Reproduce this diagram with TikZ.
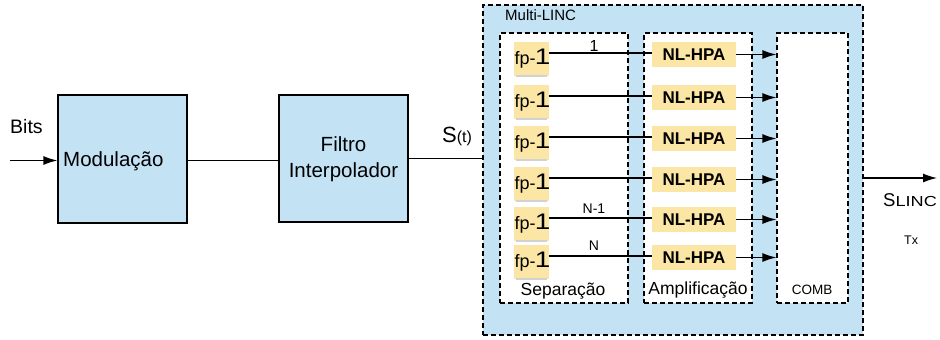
\documentclass[tikz,border=0pt]{standalone}
\usepackage{fontspec}
\setmainfont{Liberation Sans}
\usetikzlibrary{arrows.meta}
\definecolor{skyfill}{RGB}{195,227,245}
\definecolor{ampfill}{RGB}{252,230,166}
\newcommand{\fs}[1]{\fontsize{#1}{#1}\selectfont}
\tikzset{
  block/.style={draw=black, line width=1.2pt, fill=skyfill, inner sep=0pt},
  dashbox/.style={draw=black, line width=1.2pt, dash pattern=on 5pt off 3pt, inner sep=0pt},
  fpbox/.style={fill=ampfill, minimum width=35pt, minimum height=34pt, inner sep=0pt},
  hpabox/.style={fill=ampfill, minimum width=84pt, minimum height=25pt, inner sep=0pt, font=\fs{17}\bfseries},
  wire/.style={line width=1.2pt},
  arr/.style={wire, -{Latex[length=14pt,width=9pt]}},
  lbl/.style={inner sep=0pt, font=\fs{14}},
  txt/.style={inner sep=0pt}
}
\begin{document}
\begin{tikzpicture}[x=1pt,y=-1pt]
\useasboundingbox (0,0) rectangle (940,340);
\fill[white] (0,0) rectangle (940,340);

% modulation and interpolation stages
\node[block, minimum width=129pt, minimum height=128pt] (mod) at (122.5,159) {};
\node[txt, anchor=base west, font=\fs{20.5}] (modtxt) at (63,166) {Modulação};
\node[block, minimum width=129pt, minimum height=127pt] (filt) at (343.5,158.5) {};
\node[txt, anchor=base, font=\fs{20.5}] (filta) at (343.5,151) {Filtro};
\node[txt, anchor=base, font=\fs{20.5}] (filtb) at (343.5,177) {Interpolador};

\coordinate (bitsin) at (10,160.5);
\node[txt, anchor=base west, font=\fs{19.5}] (bits) at (10,133) {Bits};
\draw[arr] (bitsin) -- (mod.west |- bitsin);
\draw[wire] (mod.east |- bitsin) -- (filt.west |- bitsin);

% Multi-LINC block with its three sections
\node[dashbox, fill=skyfill, minimum width=380pt, minimum height=330pt] (linc) at (673,170) {};
\node[txt, anchor=base west, font=\fs{15}] (linctxt) at (505,20) {Multi-LINC};
\node[dashbox, fill=white, minimum width=128pt, minimum height=270pt] (sep) at (564,168) {};
\node[dashbox, fill=white, minimum width=108pt, minimum height=270pt] (amp) at (698,168) {};
\node[dashbox, fill=white, minimum width=71pt, minimum height=270pt] (comb) at (812.5,168) {};

\draw[wire] (filt.east) -- (linc.west |- filt.east);
\node[txt, anchor=base west] (st) at (442,142) {\fs{22}S\fs{16}(t)};

% parallel branches: fp-1 -> NL-HPA -> COMB
\foreach \i/\y in {1/53,2/96,3/137,4/178,5/218,6/256}{
  \node[fpbox] (fp\i) at (531.5,\y+6) {};
  \draw[gray!35, line width=1.5pt] ([xshift=2pt]fp\i.south west) -- ([xshift=-2pt]fp\i.south east);
  \node[txt, anchor=base west] (fpt\i) at (514.5,\y+11) {\fs{18}fp-\hspace{-0.8pt}\scalebox{1.55}[1.25]{1}};
  \coordinate (fo\i) at (549,\y);
  \node[hpabox] (hpa\i) at (694,\y+1.5) {NL-HPA};
  \draw[wire] (fo\i) -- (hpa\i.west |- fo\i);
  \draw[arr] (hpa\i.east) -- (comb.west |- hpa\i.east);
}

\node[lbl, font=\fs{16}] (l1) at (594,46) {1};
\node[lbl] (ln1) at (594,209) {N-1};
\node[lbl] (ln) at (594,246) {N};

\node[txt, font=\fs{17.5}] (septxt) at (563,291) {Separação};
\node[txt, font=\fs{17.5}] (amptxt) at (698,290) {Amplificação};
\node[txt, font=\fs{13.5}] (combtxt) at (812,290) {COMB};

% output
\coordinate (out) at (937,178);
\draw[arr] (linc.east |- out) -- (out);
\node[txt, anchor=base west] (slinc) at (883,206) {\fs{18.5}S\scalebox{1.25}[1]{\fs{14.5}LINC}};
\node[txt, anchor=base west, font=\fs{12.5}] (tx) at (904,244) {Tx};
\end{tikzpicture}
\end{document}
